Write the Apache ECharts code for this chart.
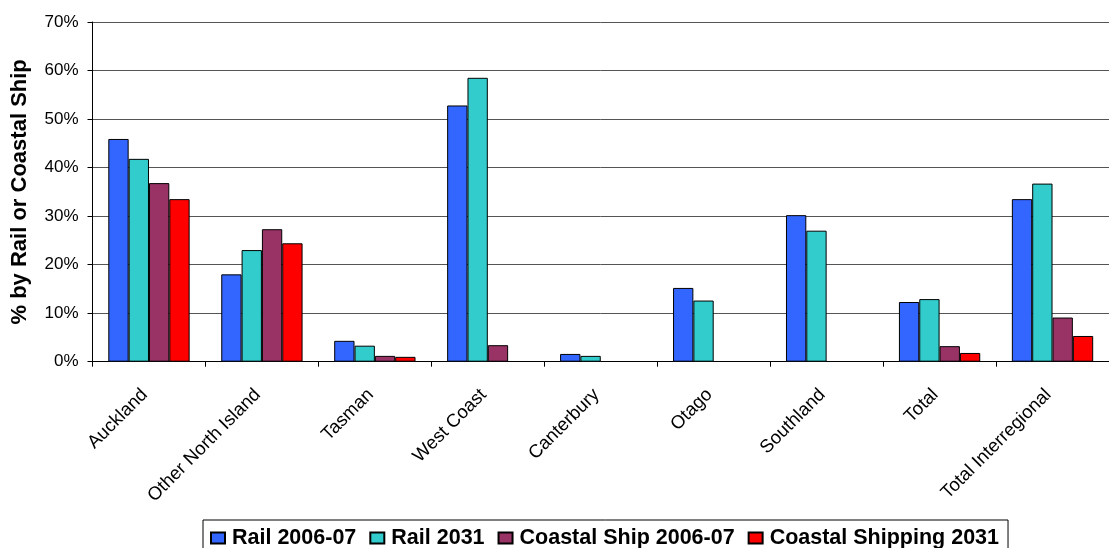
<!DOCTYPE html>
<html>
<head>
<meta charset="utf-8">
<script src="https://cdn.jsdelivr.net/npm/echarts@6/dist/echarts.min.js"></script>
<style>
html,body{margin:0;padding:0;background:#fff;}
#chart{width:1109px;height:548px;}
</style>
</head>
<body>
<div id="chart"></div>
<script>
const categories = ['Auckland','Other North Island','Tasman','West Coast','Canterbury','Otago','Southland','Total','Total Interregional'];
const rail0607 = [45.9, 18.0, 4.3, 52.8, 1.6, 15.2, 30.2, 12.3, 33.5];
const rail2031 = [41.8, 23.0, 3.3, 58.5, 1.2, 12.6, 27.0, 12.9, 36.7];
const coastal0607 = [36.8, 27.3, 1.2, 3.4, null, null, null, 3.2, 9.1];
const coastal2031 = [33.5, 24.4, 1.0, null, null, null, null, 1.8, 5.3];
const seriesNames = ['Rail 2006-07','Rail 2031','Coastal Ship 2006-07','Coastal Shipping 2031'];
const seriesColors = ['#3366FF','#33CCCC','#993366','#FF0000'];
const yTicks = {min: 0, max: 70, interval: 10};

const chart = echarts.init(document.getElementById('chart'), null, {renderer:'canvas'});
const data = [rail0607, rail2031, coastal0607, coastal2031];
const font = '"Liberation Sans", Arial, sans-serif';
chart.setOption({
  animation: false,
  backgroundColor: '#fff',
  textStyle: {fontFamily: font, color: '#000'},
  grid: {left: 92.5, right: -6, top: 22, bottom: 186.3, containLabel: false},
  legend: {
    data: seriesNames,
    left: 203, top: 520,
    padding: [7, 9, 9, 7],
    borderColor: '#000', borderWidth: 1,
    backgroundColor: '#fff',
    itemWidth: 14, itemHeight: 11, itemGap: 13,
    icon: 'rect',
    textStyle: {fontFamily: font, fontWeight: 'bold', fontSize: 21.5, color: '#000', padding: [0,0,0,2]}
  },
  xAxis: {
    type: 'category',
    data: categories,
    axisLine: {lineStyle: {color: '#000', width: 1}},
    axisTick: {show: true, length: 5, lineStyle: {color: '#000'}},
    axisLabel: {rotate: 45, fontSize: 18.5, color: '#000', margin: 26, padding: [0, 6, 0, 0], interval: 0, fontFamily: font},
    splitLine: {show: false}
  },
  yAxis: {
    type: 'value',
    min: yTicks.min, max: yTicks.max, interval: yTicks.interval,
    name: '% by Rail or Coastal Ship',
    nameLocation: 'middle',
    nameGap: 62,
    nameTextStyle: {fontSize: 22, fontWeight: 'bold', color: '#000', fontFamily: font},
    axisLine: {show: true, lineStyle: {color: '#000', width: 1}},
    axisTick: {show: true, length: 5, lineStyle: {color: '#000'}},
    axisLabel: {formatter: '{value}%', fontSize: 17, color: '#000', margin: 14, fontFamily: font},
    splitLine: {show: true, lineStyle: {color: '#555', width: 1}}
  },
  series: seriesNames.map((n, i) => ({
    name: n,
    type: 'bar',
    data: data[i],
    barGap: '0%',
    barCategoryGap: '28%',
    itemStyle: {color: seriesColors[i], borderColor: '#000', borderWidth: 1}
  }))
});
</script>
</body>
</html>
